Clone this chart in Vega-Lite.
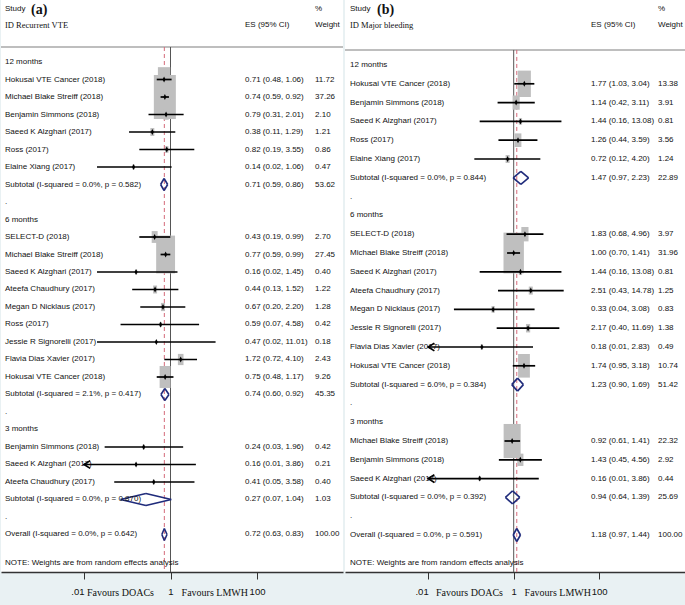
{
  "$schema": "https://vega.github.io/schema/vega-lite/v6.json",
  "background": "#e9f1f3",
  "padding": 0,
  "spacing": 0,
  "config": {
    "view": {"fill": "white", "stroke": null},
    "axisY": {"disable": true},
    "axis": {"grid": false},
    "text": {"font": "Liberation Sans, Arial, sans-serif", "fontSize": 8, "baseline": "middle", "align": "left", "color": "#111"}
  },
  "datasets": {
    "a": [
      {"row": 0, "type": "head", "label": "12 months"},
      {"row": 1, "type": "study", "label": "Hokusai VTE Cancer (2018)", "es": 0.71, "lo": 0.48, "hi": 1.06, "w": 11.72, "ci": "0.71 (0.48, 1.06)", "wt": "11.72"},
      {"row": 2, "type": "study", "label": "Michael Blake Streiff (2018)", "es": 0.74, "lo": 0.59, "hi": 0.92, "w": 37.26, "ci": "0.74 (0.59, 0.92)", "wt": "37.26"},
      {"row": 3, "type": "study", "label": "Benjamin Simmons (2018)", "es": 0.79, "lo": 0.31, "hi": 2.01, "w": 2.10, "ci": "0.79 (0.31, 2.01)", "wt": "2.10"},
      {"row": 4, "type": "study", "label": "Saeed K Alzghari (2017)", "es": 0.38, "lo": 0.11, "hi": 1.29, "w": 1.21, "ci": "0.38 (0.11, 1.29)", "wt": "1.21"},
      {"row": 5, "type": "study", "label": "Ross  (2017)", "es": 0.82, "lo": 0.19, "hi": 3.55, "w": 0.86, "ci": "0.82 (0.19, 3.55)", "wt": "0.86"},
      {"row": 6, "type": "study", "label": "Elaine Xiang (2017)", "es": 0.14, "lo": 0.02, "hi": 1.06, "w": 0.47, "ci": "0.14 (0.02, 1.06)", "wt": "0.47"},
      {"row": 7, "type": "sub", "label": "Subtotal (I-squared = 0.0%, p = 0.582)", "es": 0.71, "lo": 0.59, "hi": 0.86, "w": 53.62, "ci": "0.71 (0.59, 0.86)", "wt": "53.62"},
      {"row": 8, "type": "head", "label": "."},
      {"row": 9, "type": "head", "label": "6 months"},
      {"row": 10, "type": "study", "label": "SELECT-D  (2018)", "es": 0.43, "lo": 0.19, "hi": 0.99, "w": 2.70, "ci": "0.43 (0.19, 0.99)", "wt": "2.70"},
      {"row": 11, "type": "study", "label": "Michael Blake Streiff (2018)", "es": 0.77, "lo": 0.59, "hi": 0.99, "w": 27.45, "ci": "0.77 (0.59, 0.99)", "wt": "27.45"},
      {"row": 12, "type": "study", "label": "Saeed K Alzghari (2017)", "es": 0.16, "lo": 0.02, "hi": 1.45, "w": 0.40, "ci": "0.16 (0.02, 1.45)", "wt": "0.40"},
      {"row": 13, "type": "study", "label": "Ateefa Chaudhury (2017)", "es": 0.44, "lo": 0.13, "hi": 1.52, "w": 1.22, "ci": "0.44 (0.13, 1.52)", "wt": "1.22"},
      {"row": 14, "type": "study", "label": "Megan D Nicklaus  (2017)", "es": 0.67, "lo": 0.20, "hi": 2.20, "w": 1.28, "ci": "0.67 (0.20, 2.20)", "wt": "1.28"},
      {"row": 15, "type": "study", "label": "Ross  (2017)", "es": 0.59, "lo": 0.07, "hi": 4.58, "w": 0.42, "ci": "0.59 (0.07, 4.58)", "wt": "0.42"},
      {"row": 16, "type": "study", "label": "Jessie R Signorelli  (2017)", "es": 0.47, "lo": 0.02, "hi": 11.01, "w": 0.18, "ci": "0.47 (0.02, 11.01)", "wt": "0.18"},
      {"row": 17, "type": "study", "label": "Flavia Dias Xavier (2017)", "es": 1.72, "lo": 0.72, "hi": 4.10, "w": 2.43, "ci": "1.72 (0.72, 4.10)", "wt": "2.43"},
      {"row": 18, "type": "study", "label": "Hokusai VTE Cancer (2018)", "es": 0.75, "lo": 0.48, "hi": 1.17, "w": 9.26, "ci": "0.75 (0.48, 1.17)", "wt": "9.26"},
      {"row": 19, "type": "sub", "label": "Subtotal (I-squared = 2.1%, p = 0.417)", "es": 0.74, "lo": 0.60, "hi": 0.92, "w": 45.35, "ci": "0.74 (0.60, 0.92)", "wt": "45.35"},
      {"row": 20, "type": "head", "label": "."},
      {"row": 21, "type": "head", "label": "3 months"},
      {"row": 22, "type": "study", "label": "Benjamin Simmons (2018)", "es": 0.24, "lo": 0.03, "hi": 1.96, "w": 0.42, "ci": "0.24 (0.03, 1.96)", "wt": "0.42"},
      {"row": 23, "type": "study", "label": "Saeed K Alzghari (2017)", "es": 0.16, "lo": 0.01, "hi": 3.86, "w": 0.21, "ci": "0.16 (0.01, 3.86)", "wt": "0.21"},
      {"row": 24, "type": "study", "label": "Ateefa Chaudhury (2017)", "es": 0.41, "lo": 0.05, "hi": 3.58, "w": 0.40, "ci": "0.41 (0.05, 3.58)", "wt": "0.40"},
      {"row": 25, "type": "sub", "label": "Subtotal (I-squared = 0.0%, p = 0.870)", "es": 0.27, "lo": 0.07, "hi": 1.04, "w": 1.03, "ci": "0.27 (0.07, 1.04)", "wt": "1.03"},
      {"row": 26, "type": "head", "label": "."},
      {"row": 27, "type": "overall", "label": "Overall (I-squared = 0.0%, p = 0.642)", "es": 0.72, "lo": 0.63, "hi": 0.83, "w": 100, "ci": "0.72 (0.63, 0.83)", "wt": "100.00"}
    ],
    "b": [
      {"row": 0, "type": "head", "label": "12 months"},
      {"row": 1, "type": "study", "label": "Hokusai VTE Cancer (2018)", "es": 1.77, "lo": 1.03, "hi": 3.04, "w": 13.38, "ci": "1.77 (1.03, 3.04)", "wt": "13.38"},
      {"row": 2, "type": "study", "label": "Benjamin Simmons (2018)", "es": 1.14, "lo": 0.42, "hi": 3.11, "w": 3.91, "ci": "1.14 (0.42, 3.11)", "wt": "3.91"},
      {"row": 3, "type": "study", "label": "Saeed K Alzghari (2017)", "es": 1.44, "lo": 0.16, "hi": 13.08, "w": 0.81, "ci": "1.44 (0.16, 13.08)", "wt": "0.81"},
      {"row": 4, "type": "study", "label": "Ross  (2017)", "es": 1.26, "lo": 0.44, "hi": 3.59, "w": 3.56, "ci": "1.26 (0.44, 3.59)", "wt": "3.56"},
      {"row": 5, "type": "study", "label": "Elaine Xiang (2017)", "es": 0.72, "lo": 0.12, "hi": 4.20, "w": 1.24, "ci": "0.72 (0.12, 4.20)", "wt": "1.24"},
      {"row": 6, "type": "sub", "label": "Subtotal (I-squared = 0.0%, p = 0.844)", "es": 1.47, "lo": 0.97, "hi": 2.23, "w": 22.89, "ci": "1.47 (0.97, 2.23)", "wt": "22.89"},
      {"row": 7, "type": "head", "label": "."},
      {"row": 8, "type": "head", "label": "6 months"},
      {"row": 9, "type": "study", "label": "SELECT-D  (2018)", "es": 1.83, "lo": 0.68, "hi": 4.96, "w": 3.97, "ci": "1.83 (0.68, 4.96)", "wt": "3.97"},
      {"row": 10, "type": "study", "label": "Michael Blake Streiff (2018)", "es": 1.00, "lo": 0.70, "hi": 1.41, "w": 31.96, "ci": "1.00 (0.70, 1.41)", "wt": "31.96"},
      {"row": 11, "type": "study", "label": "Saeed K Alzghari (2017)", "es": 1.44, "lo": 0.16, "hi": 13.08, "w": 0.81, "ci": "1.44 (0.16, 13.08)", "wt": "0.81"},
      {"row": 12, "type": "study", "label": "Ateefa Chaudhury (2017)", "es": 2.51, "lo": 0.43, "hi": 14.78, "w": 1.25, "ci": "2.51 (0.43, 14.78)", "wt": "1.25"},
      {"row": 13, "type": "study", "label": "Megan D Nicklaus  (2017)", "es": 0.33, "lo": 0.04, "hi": 3.08, "w": 0.83, "ci": "0.33 (0.04, 3.08)", "wt": "0.83"},
      {"row": 14, "type": "study", "label": "Jessie R Signorelli  (2017)", "es": 2.17, "lo": 0.40, "hi": 11.69, "w": 1.38, "ci": "2.17 (0.40, 11.69)", "wt": "1.38"},
      {"row": 15, "type": "study", "label": "Flavia Dias Xavier (2017)", "es": 0.18, "lo": 0.01, "hi": 2.83, "w": 0.49, "ci": "0.18 (0.01, 2.83)", "wt": "0.49"},
      {"row": 16, "type": "study", "label": "Hokusai VTE Cancer (2018)", "es": 1.74, "lo": 0.95, "hi": 3.18, "w": 10.74, "ci": "1.74 (0.95, 3.18)", "wt": "10.74"},
      {"row": 17, "type": "sub", "label": "Subtotal (I-squared = 6.0%, p = 0.384)", "es": 1.23, "lo": 0.90, "hi": 1.69, "w": 51.42, "ci": "1.23 (0.90, 1.69)", "wt": "51.42"},
      {"row": 18, "type": "head", "label": "."},
      {"row": 19, "type": "head", "label": "3 months"},
      {"row": 20, "type": "study", "label": "Michael Blake Streiff (2018)", "es": 0.92, "lo": 0.61, "hi": 1.41, "w": 22.32, "ci": "0.92 (0.61, 1.41)", "wt": "22.32"},
      {"row": 21, "type": "study", "label": "Benjamin Simmons (2018)", "es": 1.43, "lo": 0.45, "hi": 4.56, "w": 2.92, "ci": "1.43 (0.45, 4.56)", "wt": "2.92"},
      {"row": 22, "type": "study", "label": "Saeed K Alzghari (2017)", "es": 0.16, "lo": 0.01, "hi": 3.86, "w": 0.44, "ci": "0.16 (0.01, 3.86)", "wt": "0.44"},
      {"row": 23, "type": "sub", "label": "Subtotal (I-squared = 0.0%, p = 0.392)", "es": 0.94, "lo": 0.64, "hi": 1.39, "w": 25.69, "ci": "0.94 (0.64, 1.39)", "wt": "25.69"},
      {"row": 24, "type": "head", "label": "."},
      {"row": 25, "type": "overall", "label": "Overall (I-squared = 0.0%, p = 0.591)", "es": 1.18, "lo": 0.97, "hi": 1.44, "w": 100, "ci": "1.18 (0.97, 1.44)", "wt": "100.00"}
    ]
  },
  "hconcat": [
    {
      "width": 342,
      "height": 572,
      "data": {"name": "a"},
      "layer": [
        {
          "mark": {"type": "rule", "color": "#a8a8a8", "strokeWidth": 1.5},
          "encoding": {
            "y": {"datum": -0.857, "type": "quantitative", "scale": {"domain": [-3.543, 29.143], "reverse": true, "nice": false, "zero": false}},
            "x": {"field": "lo", "type": "quantitative", "title": null,
              "scale": {"type": "log", "domain": [0.0001205, 9727], "nice": false},
              "axis": {"title": null, "values": [0.01, 1, 100], "labelExpr": "datum.value < 0.1 ? '.01' : datum.value < 10 ? '1' : '100'", "labelAlign": {"condition": {"test": "datum.value < 0.1", "value": "right"}, "value": "center"}, "tickSize": 7, "tickColor": "#333", "domainColor": "#333", "domainWidth": 1.5, "tickWidth": 1, "labelFont": "Liberation Sans, Arial, sans-serif", "labelFontSize": 9.5, "labelColor": "#111", "labelPadding": 7, "minExtent": 33, "maxExtent": 33}},
            "x2": {"field": "hi"},
            "opacity": {"value": 0}
          }
        },
        {
          "data": {"values": [{}]},
          "mark": {"type": "rule", "color": "#a8a8a8", "strokeWidth": 1.5},
          "encoding": {"y": {"datum": -0.857, "type": "quantitative"}}
        },
        {
          "data": {"values": [{}]},
          "mark": {"type": "rule", "color": "#555", "strokeWidth": 1},
          "encoding": {"x": {"datum": 1, "type": "quantitative"}, "y": {"datum": -0.857, "type": "quantitative"}, "y2": {"datum": 29.143}}
        },
        {
          "data": {"values": [{}]},
          "mark": {"type": "rule", "color": "#d46a7a", "strokeWidth": 1, "strokeDash": [4, 3]},
          "encoding": {"x": {"datum": 0.72, "type": "quantitative"}, "y": {"datum": -0.857, "type": "quantitative"}, "y2": {"datum": 29.143}}
        },
        {
          "transform": [{"filter": "datum.type == 'study'"}],
          "mark": {"type": "point", "shape": "M-0.5,-1L0.5,-1L0.5,1L-0.5,1Z", "filled": true, "color": "#bfbfbf", "opacity": 1, "strokeWidth": 0},
          "encoding": {
            "x": {"field": "es", "type": "quantitative", "title": null},
            "y": {"field": "row", "type": "quantitative"},
            "size": {"field": "w", "type": "quantitative", "scale": {"domain": [0, 100], "range": [0, 5200]}, "legend": null}
          }
        },
        {
          "transform": [{"filter": "datum.type == 'study'"}],
          "mark": {"type": "rule", "color": "#000", "strokeWidth": 1.7},
          "encoding": {
            "x": {"field": "lo", "type": "quantitative", "title": null},
            "x2": {"field": "hi"},
            "y": {"field": "row", "type": "quantitative"}
          }
        },
        {
          "transform": [{"filter": "datum.type == 'study' && datum.lo <= 0.0101"}],
          "mark": {"type": "point", "shape": "M1.6,-1L0,0L1.6,1", "filled": false, "stroke": "#000", "strokeWidth": 1.7, "size": 60, "opacity": 1},
          "encoding": {
            "x": {"field": "lo", "type": "quantitative", "title": null},
            "y": {"field": "row", "type": "quantitative"}
          }
        },
        {
          "transform": [{"filter": "datum.type == 'study'"}],
          "mark": {"type": "point", "shape": "M0,-1L0.5,0L0,1L-0.5,0Z", "filled": true, "color": "#000", "size": 36, "opacity": 1},
          "encoding": {
            "x": {"field": "es", "type": "quantitative", "title": null},
            "y": {"field": "row", "type": "quantitative"}
          }
        },
        {
          "transform": [{"filter": "datum.type == 'sub' || datum.type == 'overall'"}],
          "mark": {"type": "rule", "color": "#1f2b7b", "strokeWidth": 1.6, "y2Offset": -6},
          "encoding": {"x": {"field": "lo", "type": "quantitative", "title": null}, "x2": {"field": "es"}, "y": {"field": "row", "type": "quantitative"}, "y2": {"field": "row"}}
        },
        {
          "transform": [{"filter": "datum.type == 'sub' || datum.type == 'overall'"}],
          "mark": {"type": "rule", "color": "#1f2b7b", "strokeWidth": 1.6, "y2Offset": 6},
          "encoding": {"x": {"field": "lo", "type": "quantitative", "title": null}, "x2": {"field": "es"}, "y": {"field": "row", "type": "quantitative"}, "y2": {"field": "row"}}
        },
        {
          "transform": [{"filter": "datum.type == 'sub' || datum.type == 'overall'"}],
          "mark": {"type": "rule", "color": "#1f2b7b", "strokeWidth": 1.6, "yOffset": -6},
          "encoding": {"x": {"field": "es", "type": "quantitative", "title": null}, "x2": {"field": "hi"}, "y": {"field": "row", "type": "quantitative"}, "y2": {"field": "row"}}
        },
        {
          "transform": [{"filter": "datum.type == 'sub' || datum.type == 'overall'"}],
          "mark": {"type": "rule", "color": "#1f2b7b", "strokeWidth": 1.6, "yOffset": 6},
          "encoding": {"x": {"field": "es", "type": "quantitative", "title": null}, "x2": {"field": "hi"}, "y": {"field": "row", "type": "quantitative"}, "y2": {"field": "row"}}
        },
        {
          "mark": {"type": "text"},
          "encoding": {"x": {"datum": 0.0001491, "type": "quantitative"}, "y": {"field": "row", "type": "quantitative"}, "text": {"field": "label"}}
        },
        {
          "transform": [{"filter": "datum.type != 'head'"}],
          "mark": {"type": "text"},
          "encoding": {"x": {"datum": 52.78, "type": "quantitative"}, "y": {"field": "row", "type": "quantitative"}, "text": {"field": "ci"}}
        },
        {
          "transform": [{"filter": "datum.type != 'head'"}],
          "mark": {"type": "text"},
          "encoding": {"x": {"datum": 2193, "type": "quantitative"}, "y": {"field": "row", "type": "quantitative"}, "text": {"field": "wt"}}
        },
        {
          "data": {"values": [{"t": "Study"}]},
          "mark": {"type": "text"},
          "encoding": {"x": {"datum": 0.0001491, "type": "quantitative"}, "y": {"datum": -3.03, "type": "quantitative"}, "text": {"field": "t"}}
        },
        {
          "data": {"values": [{"t": "(a)"}]},
          "mark": {"type": "text", "font": "Liberation Serif, DejaVu Serif, serif", "fontSize": 14, "fontWeight": "bold"},
          "encoding": {"x": {"datum": 0.000595, "type": "quantitative"}, "y": {"datum": -3.0, "type": "quantitative"}, "text": {"field": "t"}}
        },
        {
          "data": {"values": [{"t": "ID Recurrent VTE"}]},
          "mark": {"type": "text", "font": "Liberation Serif, DejaVu Serif, serif", "fontSize": 8.5},
          "encoding": {"x": {"datum": 0.0001491, "type": "quantitative"}, "y": {"datum": -2.11, "type": "quantitative"}, "text": {"field": "t"}}
        },
        {
          "data": {"values": [{"t": "ES (95% CI)"}]},
          "mark": {"type": "text"},
          "encoding": {"x": {"datum": 52.78, "type": "quantitative"}, "y": {"datum": -2.11, "type": "quantitative"}, "text": {"field": "t"}}
        },
        {
          "data": {"values": [{"t": "%"}]},
          "mark": {"type": "text"},
          "encoding": {"x": {"datum": 2193, "type": "quantitative"}, "y": {"datum": -3.03, "type": "quantitative"}, "text": {"field": "t"}}
        },
        {
          "data": {"values": [{"t": "Weight"}]},
          "mark": {"type": "text"},
          "encoding": {"x": {"datum": 2193, "type": "quantitative"}, "y": {"datum": -2.11, "type": "quantitative"}, "text": {"field": "t"}}
        },
        {
          "data": {"values": [{"t": "NOTE: Weights are from random effects analysis"}]},
          "mark": {"type": "text"},
          "encoding": {"x": {"datum": 0.0001491, "type": "quantitative"}, "y": {"datum": 28.63, "type": "quantitative"}, "text": {"field": "t"}}
        },
        {
          "data": {"values": [{"t": "Favours DOACs"}]},
          "mark": {"type": "text", "font": "Liberation Serif, DejaVu Serif, serif", "fontSize": 10},
          "encoding": {"x": {"datum": 0.01173, "type": "quantitative"}, "y": {"datum": 30.34, "type": "quantitative"}, "text": {"field": "t"}}
        },
        {
          "data": {"values": [{"t": "Favours LMWH"}]},
          "mark": {"type": "text", "font": "Liberation Serif, DejaVu Serif, serif", "fontSize": 10, "align": "right"},
          "encoding": {"x": {"datum": 61.9, "type": "quantitative"}, "y": {"datum": 30.34, "type": "quantitative"}, "text": {"field": "t"}}
        }
      ]
    },
    {
      "width": 343,
      "height": 572,
      "data": {"name": "b"},
      "layer": [
        {
          "mark": {"type": "rule", "color": "#a8a8a8", "strokeWidth": 1.5},
          "encoding": {
            "y": {"datum": -0.8, "type": "quantitative", "scale": {"domain": [-3.457, 26.968], "reverse": true, "nice": false, "zero": false}},
            "x": {"field": "lo", "type": "quantitative", "title": null,
              "scale": {"type": "log", "domain": [0.00011324, 11946], "nice": false},
              "axis": {"title": null, "values": [0.01, 1, 100], "labelExpr": "datum.value < 0.1 ? '.01' : datum.value < 10 ? '1' : '100'", "labelAlign": {"condition": {"test": "datum.value < 0.1", "value": "right"}, "value": "center"}, "tickSize": 7, "tickColor": "#333", "domainColor": "#333", "domainWidth": 1.5, "tickWidth": 1, "labelFont": "Liberation Sans, Arial, sans-serif", "labelFontSize": 9.5, "labelColor": "#111", "labelPadding": 7, "minExtent": 33, "maxExtent": 33}},
            "x2": {"field": "hi"},
            "opacity": {"value": 0}
          }
        },
        {
          "data": {"values": [{}]},
          "mark": {"type": "rule", "color": "#a8a8a8", "strokeWidth": 1.5},
          "encoding": {"y": {"datum": -0.8, "type": "quantitative"}}
        },
        {
          "data": {"values": [{}]},
          "mark": {"type": "rule", "color": "#555", "strokeWidth": 1},
          "encoding": {"x": {"datum": 1, "type": "quantitative"}, "y": {"datum": -0.8, "type": "quantitative"}, "y2": {"datum": 26.968}}
        },
        {
          "data": {"values": [{}]},
          "mark": {"type": "rule", "color": "#d46a7a", "strokeWidth": 1, "strokeDash": [4, 3]},
          "encoding": {"x": {"datum": 1.18, "type": "quantitative"}, "y": {"datum": -0.8, "type": "quantitative"}, "y2": {"datum": 26.968}}
        },
        {
          "transform": [{"filter": "datum.type == 'study'"}],
          "mark": {"type": "point", "shape": "M-0.5,-1L0.5,-1L0.5,1L-0.5,1Z", "filled": true, "color": "#bfbfbf", "opacity": 1, "strokeWidth": 0},
          "encoding": {
            "x": {"field": "es", "type": "quantitative", "title": null},
            "y": {"field": "row", "type": "quantitative"},
            "size": {"field": "w", "type": "quantitative", "scale": {"domain": [0, 100], "range": [0, 6400]}, "legend": null}
          }
        },
        {
          "transform": [{"filter": "datum.type == 'study'"}],
          "mark": {"type": "rule", "color": "#000", "strokeWidth": 1.7},
          "encoding": {
            "x": {"field": "lo", "type": "quantitative", "title": null},
            "x2": {"field": "hi"},
            "y": {"field": "row", "type": "quantitative"}
          }
        },
        {
          "transform": [{"filter": "datum.type == 'study' && datum.lo <= 0.0101"}],
          "mark": {"type": "point", "shape": "M1.6,-1L0,0L1.6,1", "filled": false, "stroke": "#000", "strokeWidth": 1.7, "size": 60, "opacity": 1},
          "encoding": {
            "x": {"field": "lo", "type": "quantitative", "title": null},
            "y": {"field": "row", "type": "quantitative"}
          }
        },
        {
          "transform": [{"filter": "datum.type == 'study'"}],
          "mark": {"type": "point", "shape": "M0,-1L0.5,0L0,1L-0.5,0Z", "filled": true, "color": "#000", "size": 36, "opacity": 1},
          "encoding": {
            "x": {"field": "es", "type": "quantitative", "title": null},
            "y": {"field": "row", "type": "quantitative"}
          }
        },
        {
          "transform": [{"filter": "datum.type == 'sub' || datum.type == 'overall'"}],
          "mark": {"type": "rule", "color": "#1f2b7b", "strokeWidth": 1.6, "y2Offset": -6.5},
          "encoding": {"x": {"field": "lo", "type": "quantitative", "title": null}, "x2": {"field": "es"}, "y": {"field": "row", "type": "quantitative"}, "y2": {"field": "row"}}
        },
        {
          "transform": [{"filter": "datum.type == 'sub' || datum.type == 'overall'"}],
          "mark": {"type": "rule", "color": "#1f2b7b", "strokeWidth": 1.6, "y2Offset": 6.5},
          "encoding": {"x": {"field": "lo", "type": "quantitative", "title": null}, "x2": {"field": "es"}, "y": {"field": "row", "type": "quantitative"}, "y2": {"field": "row"}}
        },
        {
          "transform": [{"filter": "datum.type == 'sub' || datum.type == 'overall'"}],
          "mark": {"type": "rule", "color": "#1f2b7b", "strokeWidth": 1.6, "yOffset": -6.5},
          "encoding": {"x": {"field": "es", "type": "quantitative", "title": null}, "x2": {"field": "hi"}, "y": {"field": "row", "type": "quantitative"}, "y2": {"field": "row"}}
        },
        {
          "transform": [{"filter": "datum.type == 'sub' || datum.type == 'overall'"}],
          "mark": {"type": "rule", "color": "#1f2b7b", "strokeWidth": 1.6, "yOffset": 6.5},
          "encoding": {"x": {"field": "es", "type": "quantitative", "title": null}, "x2": {"field": "hi"}, "y": {"field": "row", "type": "quantitative"}, "y2": {"field": "row"}}
        },
        {
          "mark": {"type": "text"},
          "encoding": {"x": {"datum": 0.0001483, "type": "quantitative"}, "y": {"field": "row", "type": "quantitative"}, "text": {"field": "label"}}
        },
        {
          "transform": [{"filter": "datum.type != 'head'"}],
          "mark": {"type": "text"},
          "encoding": {"x": {"datum": 64.3, "type": "quantitative"}, "y": {"field": "row", "type": "quantitative"}, "text": {"field": "ci"}}
        },
        {
          "transform": [{"filter": "datum.type != 'head'"}],
          "mark": {"type": "text"},
          "encoding": {"x": {"datum": 2373, "type": "quantitative"}, "y": {"field": "row", "type": "quantitative"}, "text": {"field": "wt"}}
        },
        {
          "data": {"values": [{"t": "Study"}]},
          "mark": {"type": "text"},
          "encoding": {"x": {"datum": 0.0001483, "type": "quantitative"}, "y": {"datum": -2.98, "type": "quantitative"}, "text": {"field": "t"}}
        },
        {
          "data": {"values": [{"t": "(b)"}]},
          "mark": {"type": "text", "font": "Liberation Serif, DejaVu Serif, serif", "fontSize": 14, "fontWeight": "bold"},
          "encoding": {"x": {"datum": 0.000634, "type": "quantitative"}, "y": {"datum": -2.95, "type": "quantitative"}, "text": {"field": "t"}}
        },
        {
          "data": {"values": [{"t": "ID Major bleeding"}]},
          "mark": {"type": "text", "font": "Liberation Serif, DejaVu Serif, serif", "fontSize": 8.5},
          "encoding": {"x": {"datum": 0.0001483, "type": "quantitative"}, "y": {"datum": -2.13, "type": "quantitative"}, "text": {"field": "t"}}
        },
        {
          "data": {"values": [{"t": "ES (95% CI)"}]},
          "mark": {"type": "text"},
          "encoding": {"x": {"datum": 64.3, "type": "quantitative"}, "y": {"datum": -2.13, "type": "quantitative"}, "text": {"field": "t"}}
        },
        {
          "data": {"values": [{"t": "%"}]},
          "mark": {"type": "text"},
          "encoding": {"x": {"datum": 2373, "type": "quantitative"}, "y": {"datum": -2.98, "type": "quantitative"}, "text": {"field": "t"}}
        },
        {
          "data": {"values": [{"t": "Weight"}]},
          "mark": {"type": "text"},
          "encoding": {"x": {"datum": 2373, "type": "quantitative"}, "y": {"datum": -2.13, "type": "quantitative"}, "text": {"field": "t"}}
        },
        {
          "data": {"values": [{"t": "NOTE: Weights are from random effects analysis"}]},
          "mark": {"type": "text"},
          "encoding": {"x": {"datum": 0.0001483, "type": "quantitative"}, "y": {"datum": 26.49, "type": "quantitative"}, "text": {"field": "t"}}
        },
        {
          "data": {"values": [{"t": "Favours DOACs"}]},
          "mark": {"type": "text", "font": "Liberation Serif, DejaVu Serif, serif", "fontSize": 10},
          "encoding": {"x": {"datum": 0.01522, "type": "quantitative"}, "y": {"datum": 28.09, "type": "quantitative"}, "text": {"field": "t"}}
        },
        {
          "data": {"values": [{"t": "Favours LMWH"}]},
          "mark": {"type": "text", "font": "Liberation Serif, DejaVu Serif, serif", "fontSize": 10, "align": "right"},
          "encoding": {"x": {"datum": 64.3, "type": "quantitative"}, "y": {"datum": 28.09, "type": "quantitative"}, "text": {"field": "t"}}
        }
      ]
    }
  ]
}
